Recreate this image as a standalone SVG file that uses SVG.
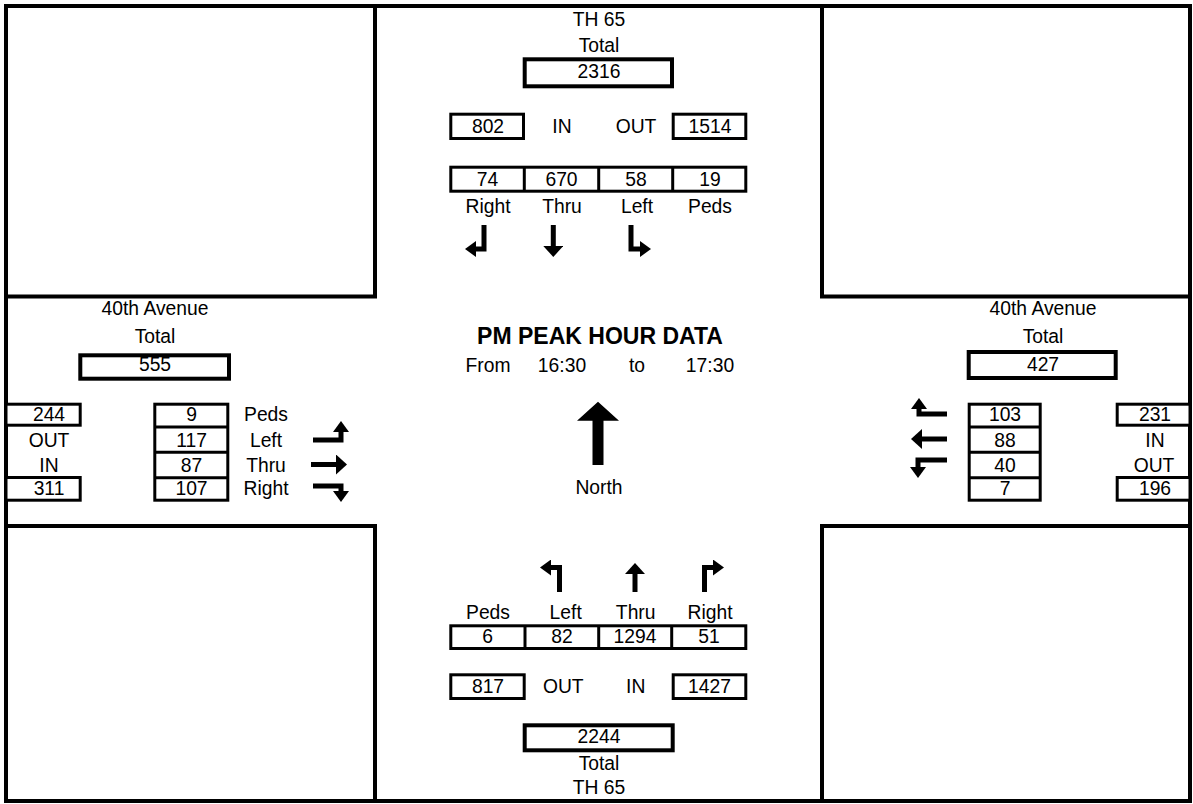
<svg xmlns="http://www.w3.org/2000/svg" width="1193" height="804" viewBox="0 0 1193 804">
<style>
text{font-family:"Liberation Sans",Arial,sans-serif;font-size:19.3px;fill:#000;text-anchor:middle}
.title{font-weight:bold;font-size:23px}
.frame{fill:none;stroke:#000;stroke-width:4}
.box{fill:#fff;stroke:#000;stroke-width:3}
.tbox{fill:#fff;stroke:#000;stroke-width:4}
.div{stroke:#000;stroke-width:3}
.arr{fill:none;stroke:#000;stroke-width:5;stroke-linejoin:miter;stroke-linecap:butt}
</style>
<defs>
<marker id="head" viewBox="0 -8 11 16" markerWidth="11" markerHeight="16" refX="0" refY="0" orient="auto" markerUnits="userSpaceOnUse">
<path d="M0,-8 L11,0 L0,8 z" fill="#000"/>
</marker>
<marker id="headT" viewBox="0 -10 11 20" markerWidth="11" markerHeight="20" refX="0" refY="0" orient="auto" markerUnits="userSpaceOnUse">
<path d="M0,-10 L11,0 L0,10 z" fill="#000"/>
</marker>
</defs>
<rect width="1193" height="804" fill="#fff"/>
<g id="frame">
<rect class="frame" x="6" y="6" width="1184" height="795"/>
<path class="frame" d="M6,296.5 H375 V6 M1190,296.5 H822 V6 M6,526 H375 V801 M1190,526 H822 V801"/>
</g>
<g id="north-approach">
<text x="599" y="26">TH 65</text>
<text x="599" y="52.3">Total</text>
<rect class="tbox" x="524.7" y="59.3" width="147.3" height="27"/>
<text x="599" y="78.3">2316</text>
<rect class="box" x="450.8" y="114.2" width="72.7" height="24.3"/>
<text x="488" y="132.7">802</text>
<text x="562" y="132.7">IN</text>
<text x="636" y="132.7">OUT</text>
<rect class="box" x="673.2" y="114.2" width="72.6" height="24.3"/>
<text x="710" y="132.7">1514</text>
<rect class="box" x="450.8" y="167.2" width="295" height="24"/>
<line class="div" x1="524.3" y1="167.2" x2="524.3" y2="191.2"/>
<line class="div" x1="598.7" y1="167.2" x2="598.7" y2="191.2"/>
<line class="div" x1="672.7" y1="167.2" x2="672.7" y2="191.2"/>
<text x="487.5" y="186">74</text>
<text x="561.5" y="186">670</text>
<text x="636" y="186">58</text>
<text x="710" y="186">19</text>
<text x="488" y="212.7">Right</text>
<text x="562" y="212.7">Thru</text>
<text x="637" y="212.7">Left</text>
<text x="710" y="212.7">Peds</text>
</g>
<g id="center-info">
<text class="title" x="600" y="344">PM PEAK HOUR DATA</text>
<text x="488" y="371.7">From</text>
<text x="562" y="371.7">16:30</text>
<text x="637" y="371.7">to</text>
<text x="710" y="371.7">17:30</text>
<polygon points="592.5,465 603.5,465 603.5,420.7 619,420.7 598,401.7 577,420.7 592.5,420.7" fill="#000"/>
<text x="599" y="494">North</text>
</g>
<g id="west-approach">
<text x="155" y="315">40th Avenue</text>
<text x="155" y="342.7">Total</text>
<rect class="tbox" x="80.3" y="355.3" width="148.7" height="23.4"/>
<text x="155" y="371">555</text>
<rect class="box" x="6" y="404.2" width="74.2" height="21"/>
<text x="49" y="421">244</text>
<text x="49" y="446.7">OUT</text>
<text x="49" y="471.7">IN</text>
<rect class="box" x="6" y="477.5" width="74.2" height="22.7"/>
<text x="49" y="495">311</text>
<rect class="box" x="154.8" y="404.2" width="73" height="96"/>
<line class="div" x1="154.8" y1="427" x2="227.8" y2="427"/>
<line class="div" x1="154.8" y1="452.3" x2="227.8" y2="452.3"/>
<line class="div" x1="154.8" y1="477.7" x2="227.8" y2="477.7"/>
<text x="191.5" y="421">9</text>
<text x="191.5" y="446.7">117</text>
<text x="191.5" y="471.7">87</text>
<text x="191.5" y="495">107</text>
<text x="266" y="421">Peds</text>
<text x="266" y="446.7">Left</text>
<text x="266" y="471.7">Thru</text>
<text x="266" y="495">Right</text>
</g>
<g id="east-approach">
<text x="1043" y="315">40th Avenue</text>
<text x="1043" y="342.7">Total</text>
<rect class="tbox" x="968.7" y="352" width="147" height="26"/>
<text x="1043" y="371">427</text>
<rect class="box" x="969.2" y="404.2" width="71" height="96"/>
<line class="div" x1="969.2" y1="427" x2="1040.2" y2="427"/>
<line class="div" x1="969.2" y1="452.3" x2="1040.2" y2="452.3"/>
<line class="div" x1="969.2" y1="477.7" x2="1040.2" y2="477.7"/>
<text x="1005" y="421">103</text>
<text x="1005" y="446.7">88</text>
<text x="1005" y="471.7">40</text>
<text x="1005" y="495">7</text>
<rect class="box" x="1117.2" y="404.2" width="72.8" height="21"/>
<text x="1155" y="421">231</text>
<text x="1155" y="446.7">IN</text>
<text x="1154" y="471.7">OUT</text>
<rect class="box" x="1117.2" y="477.5" width="72.8" height="22.7"/>
<text x="1155" y="495">196</text>
</g>
<g id="south-approach">
<text x="488" y="619.3">Peds</text>
<text x="565.7" y="619.3">Left</text>
<text x="635.7" y="619.3">Thru</text>
<text x="710" y="619.3">Right</text>
<rect class="box" x="450.8" y="625.8" width="295" height="22.7"/>
<line class="div" x1="525" y1="625.8" x2="525" y2="648.5"/>
<line class="div" x1="598.7" y1="625.8" x2="598.7" y2="648.5"/>
<line class="div" x1="671.7" y1="625.8" x2="671.7" y2="648.5"/>
<text x="487.5" y="642.7">6</text>
<text x="562" y="642.7">82</text>
<text x="635" y="642.7">1294</text>
<text x="709" y="642.7">51</text>
<rect class="box" x="450.8" y="674.8" width="73.4" height="23.7"/>
<text x="488" y="692.7">817</text>
<text x="563.3" y="692.7">OUT</text>
<text x="635.7" y="692.7">IN</text>
<rect class="box" x="673.2" y="674.8" width="72.6" height="23.7"/>
<text x="709.5" y="692.7">1427</text>
<rect class="tbox" x="524.7" y="725.3" width="148" height="25"/>
<text x="599" y="742.7">2244</text>
<text x="599" y="770">Total</text>
<text x="599" y="794">TH 65</text>
</g>
<g id="connectors">
<path class="arr" d="M484,225 V249 H476" marker-end="url(#head)"/>
<path class="arr" d="M553.3,225 V246" marker-end="url(#headT)"/>
<path class="arr" d="M631,225 V249 H640" marker-end="url(#head)"/>
<path class="arr" d="M313,440 H341 V432" marker-end="url(#head)"/>
<path class="arr" d="M311,464.5 H336" marker-end="url(#headT)"/>
<path class="arr" d="M313,486 H341 V491" marker-end="url(#head)"/>
<path class="arr" d="M947,414 H919 V409" marker-end="url(#head)"/>
<path class="arr" d="M947,439 H922" marker-end="url(#headT)"/>
<path class="arr" d="M947,460 H918 V467" marker-end="url(#head)"/>
<path class="arr" d="M559.5,592 V567.5 H551" marker-end="url(#head)"/>
<path class="arr" d="M635,592 V574" marker-end="url(#headT)"/>
<path class="arr" d="M704.5,592 V567.5 H713" marker-end="url(#head)"/>
</g>
</svg>
